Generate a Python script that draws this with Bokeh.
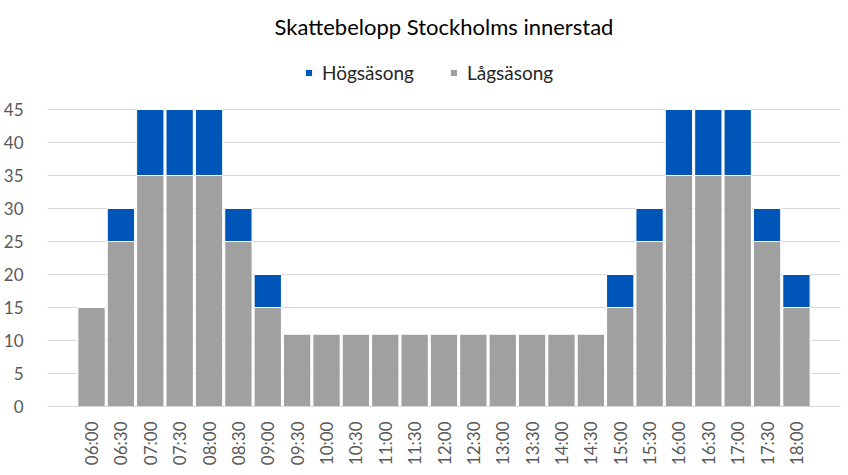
from bokeh.plotting import figure
from bokeh.models import FactorRange, Range1d, Legend, LegendItem, ColumnDataSource, FixedTicker
from bokeh.embed import file_html
from bokeh.resources import INLINE
import math

times = ["06:00", "06:30", "07:00", "07:30", "08:00", "08:30", "09:00", "09:30",
         "10:00", "10:30", "11:00", "11:30", "12:00", "12:30", "13:00", "13:30",
         "14:00", "14:30", "15:00", "15:30", "16:00", "16:30", "17:00", "17:30", "18:00"]
lagsasong = [15, 25, 35, 35, 35, 25, 15, 11, 11, 11, 11, 11, 11, 11, 11, 11, 11, 11,
             15, 25, 35, 35, 35, 25, 15]
hogsasong_extra = [0, 5, 10, 10, 10, 5, 5, 0, 0, 0, 0, 0, 0, 0, 0, 0, 0, 0,
                   5, 5, 10, 10, 10, 5, 5]
y_ticks = [0, 5, 10, 15, 20, 25, 30, 35, 40, 45]

FONT = "Lato"
BLUE = "#0055B8"
GREY = "#A0A0A0"

W, H = 848, 475
FRAME_TOP, FRAME_BOTTOM, FRAME_LEFT, FRAME_RIGHT = 42, 406, 47, 840
# y value 45 must sit at pixel 109
px_per_unit = (FRAME_BOTTOM - 109) / 45.0
y_end = (FRAME_BOTTOM - FRAME_TOP) / px_per_unit

src = ColumnDataSource(dict(t=times, lag=lagsasong, hog=hogsasong_extra))

p = figure(width=W, height=H, output_backend="svg", toolbar_location=None,
           x_range=FactorRange(*times, range_padding=1, range_padding_units="absolute"),
           y_range=Range1d(0, y_end),
           title="Skattebelopp Stockholms innerstad",
           min_border_left=FRAME_LEFT, min_border_right=W - FRAME_RIGHT,
           min_border_bottom=H - FRAME_BOTTOM, min_border_top=FRAME_TOP)

rs = p.vbar_stack(["lag", "hog"], x="t", width=0.93, source=src,
                  fill_color=[GREY, BLUE], line_color="white", line_width=1)

p.title.align = "center"
p.title.text_font = FONT
p.title.text_font_size = "22px"
p.title.text_font_style = "normal"
p.title.text_color = "#000000"
p.title.standoff = 6

legend = Legend(items=[LegendItem(label="Högsäsong", renderers=[rs[1]]),
                       LegendItem(label="Lågsäsong", renderers=[rs[0]])],
                orientation="horizontal", location=(257, 322))
legend.label_text_font = FONT
legend.label_text_font_size = "19px"
legend.label_text_color = "#262626"
legend.glyph_width = 9
legend.glyph_height = 9
legend.label_standoff = 9
legend.spacing = 35
legend.border_line_color = None
legend.background_fill_alpha = 0
legend.padding = 0
legend.margin = 0
p.add_layout(legend, "center")

p.outline_line_color = None
p.xgrid.grid_line_color = None
p.ygrid.grid_line_color = "#D9D9D9"
p.ygrid.grid_line_width = 1

p.yaxis.ticker = FixedTicker(ticks=y_ticks)
p.yaxis.axis_line_color = None
p.yaxis.major_tick_line_color = None
p.yaxis.minor_tick_line_color = None
p.yaxis.major_label_text_font = FONT
p.yaxis.major_label_text_font_size = "17px"
p.yaxis.major_label_text_color = "#595959"
p.yaxis.major_label_standoff = 18

p.xaxis.axis_line_color = "#D9D9D9"
p.xaxis.major_tick_line_color = None
p.xaxis.minor_tick_line_color = None
p.xaxis.major_label_orientation = math.pi / 2
p.xaxis.major_label_text_font = FONT
p.xaxis.major_label_text_font_size = "17px"
p.xaxis.major_label_text_color = "#595959"
p.xaxis.major_label_standoff = 9

open("out.html", "w").write(file_html(p, INLINE))
